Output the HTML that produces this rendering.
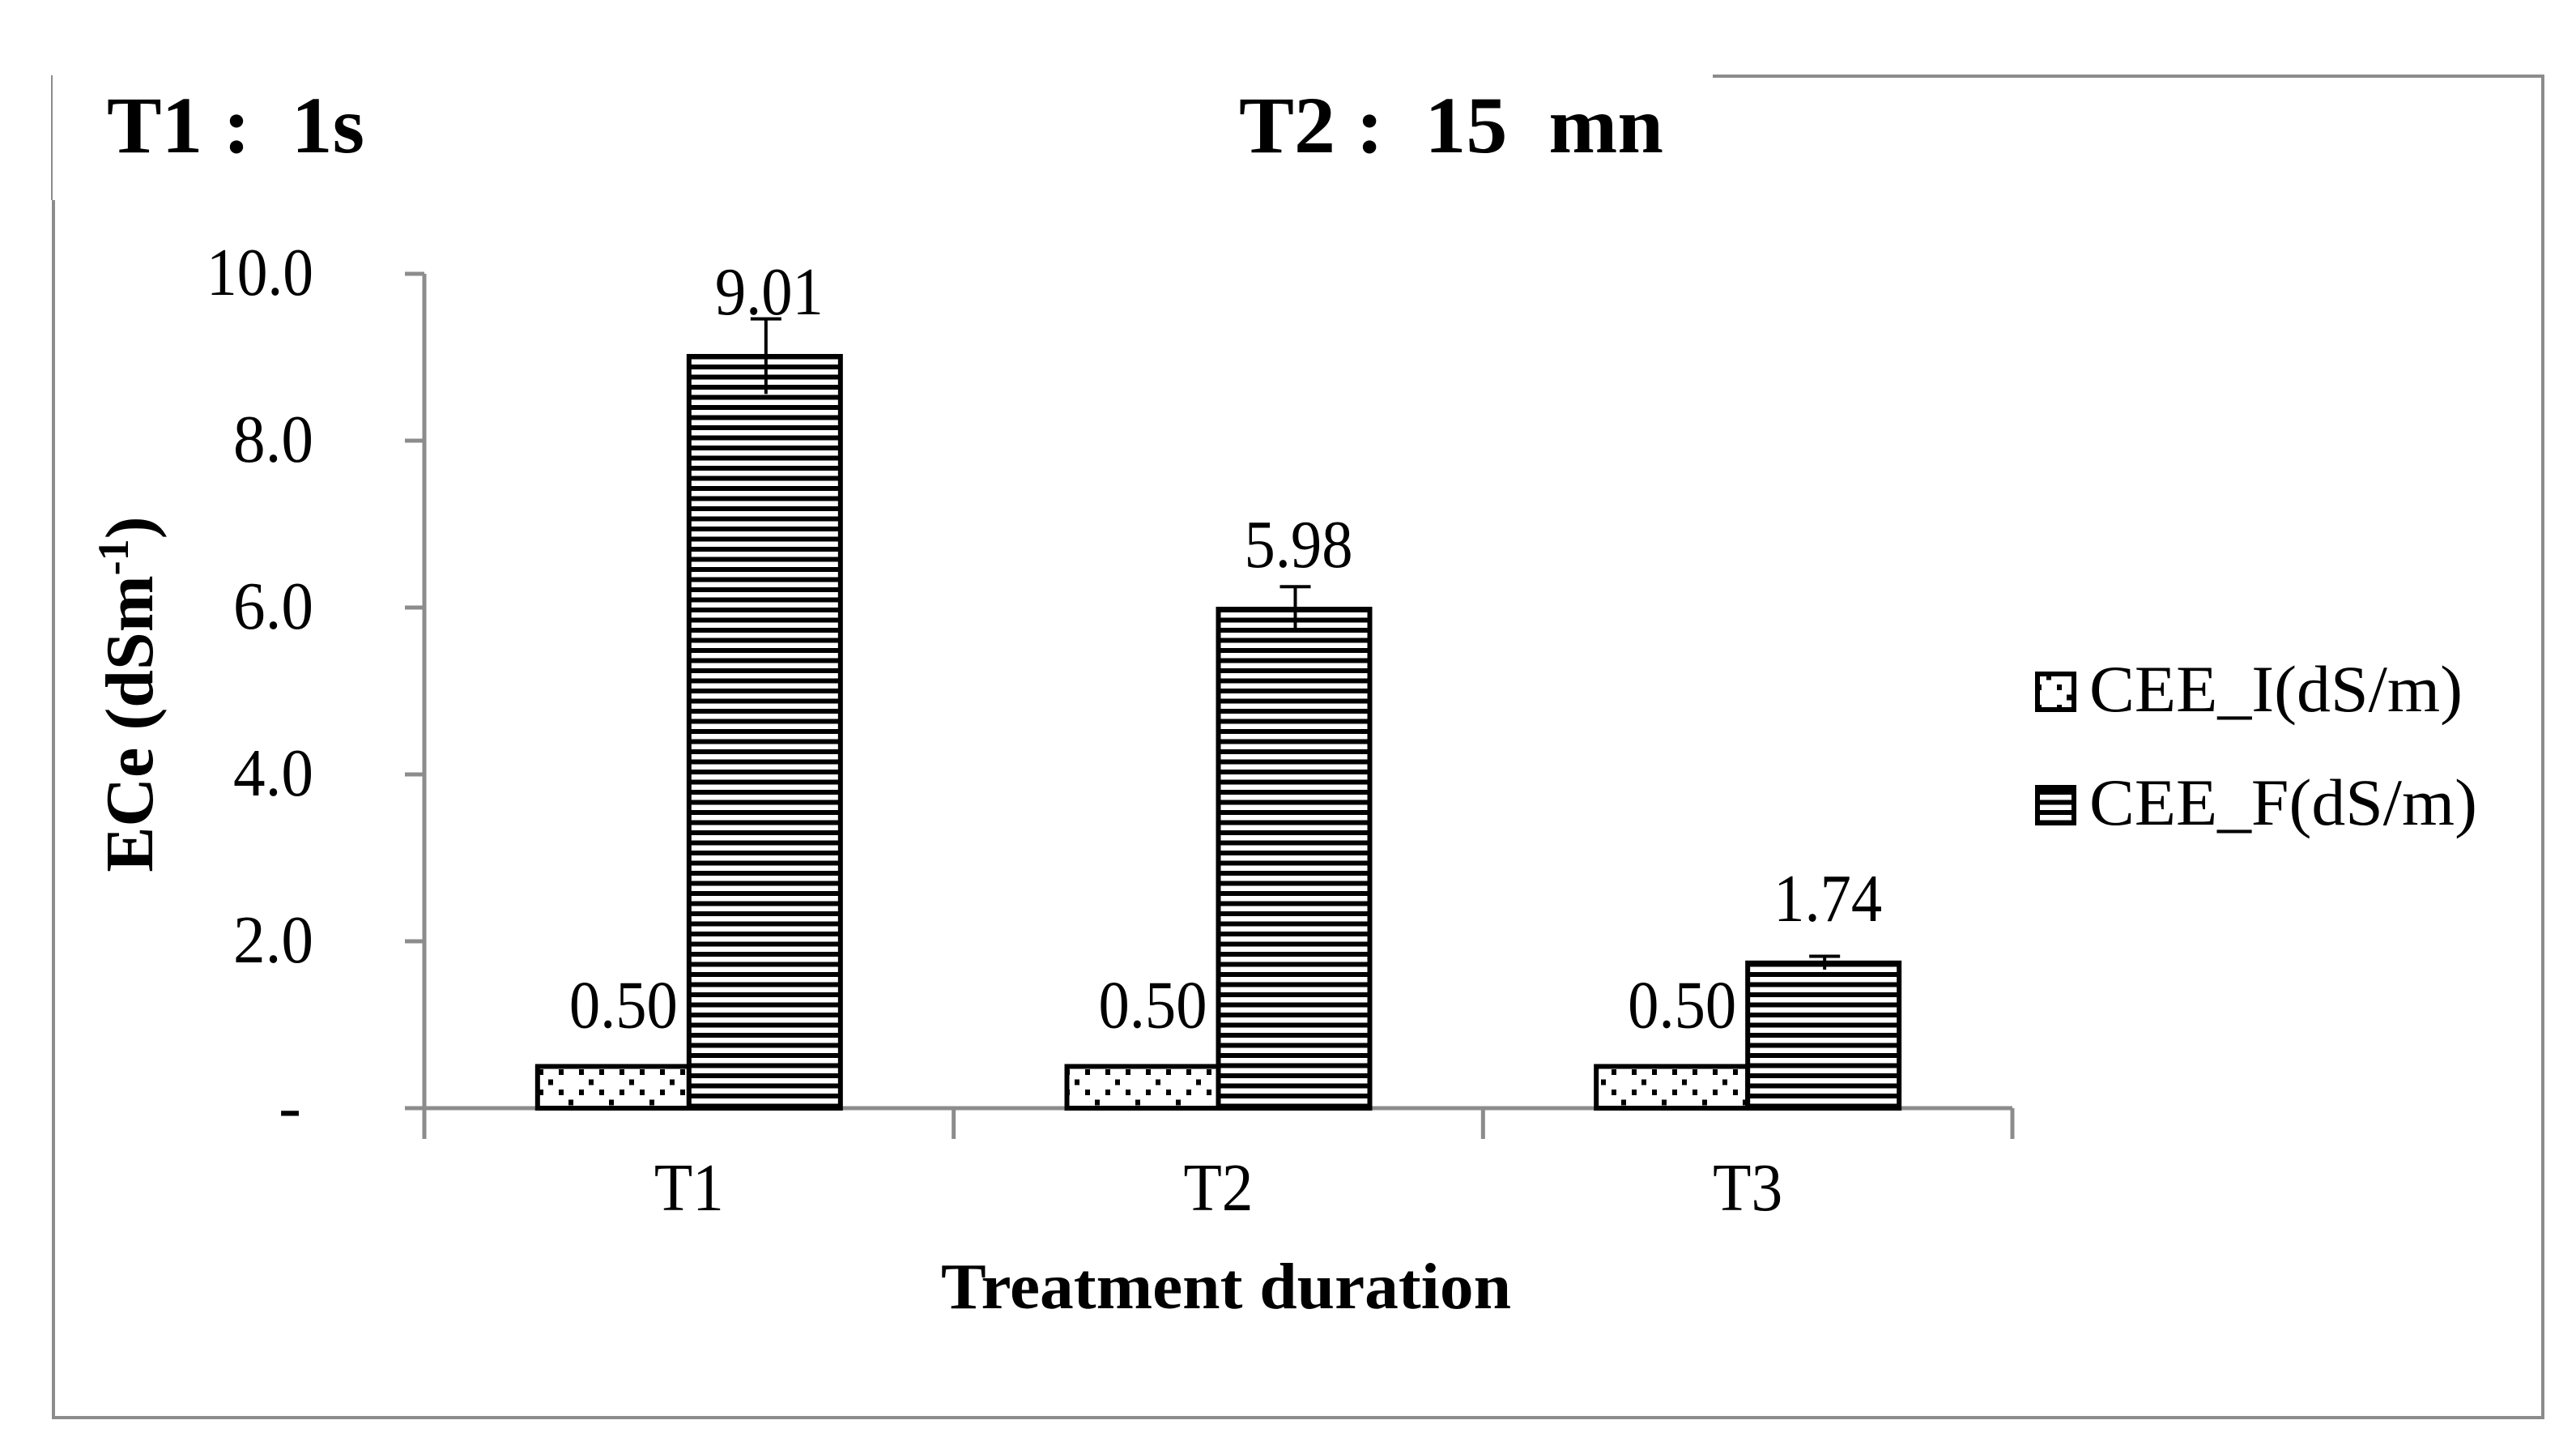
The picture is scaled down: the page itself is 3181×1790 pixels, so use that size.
<!DOCTYPE html>
<html><head><meta charset="utf-8"><style>
html,body{margin:0;padding:0;background:#fff}
svg{display:block}
text{font-family:"Liberation Serif",serif;fill:#000}
</style></head><body>
<svg id="chart" width="3181" height="1790" viewBox="0 0 3181 1790" xmlns="http://www.w3.org/2000/svg">
<defs>
<pattern id="dots" patternUnits="userSpaceOnUse" width="50" height="50" x="663" y="1318">
<rect width="50" height="50" fill="#fff"/>
<rect x="2" y="2" width="6" height="7" fill="#000"/><rect x="27" y="2" width="6" height="7" fill="#000"/>
<rect x="14" y="14.5" width="6" height="7" fill="#000"/>
<rect x="2" y="27" width="6" height="7" fill="#000"/><rect x="27" y="27" width="6" height="7" fill="#000"/>
<rect x="39" y="39.5" width="6" height="7" fill="#000"/>
</pattern>
<pattern id="stripes" patternUnits="userSpaceOnUse" width="20" height="12.5" x="0" y="0">
<rect width="20" height="12.5" fill="#fff"/><rect y="0" width="20" height="6" fill="#000"/>
</pattern>
</defs>
<g stroke="#8c8c8c" fill="none">
<line x1="64" y1="93" x2="64" y2="247" stroke-width="2"/>
<line x1="66" y1="247" x2="66" y2="1752" stroke-width="4"/>
<line x1="64" y1="1750" x2="3142" y2="1750" stroke-width="4"/>
<line x1="3140" y1="94" x2="3140" y2="1752" stroke-width="4"/>
<line x1="2115" y1="94" x2="3142" y2="94" stroke-width="4"/>
</g>
<text x="132" y="188" font-size="100" font-weight="bold" textLength="318" lengthAdjust="spacingAndGlyphs" xml:space="preserve">T1 :  1s</text>
<text x="1530" y="188" font-size="100" font-weight="bold" textLength="524" lengthAdjust="spacingAndGlyphs" xml:space="preserve">T2 :  15  mn</text>
<g id="axes"></g>
<g id="bars"></g>
<text transform="translate(188,857) rotate(-90)" text-anchor="middle" font-size="84" font-weight="bold">ECe (dSm<tspan font-size="54" dy="-30">-1</tspan><tspan dy="30">)</tspan></text>
<text x="1514" y="1615" text-anchor="middle" font-size="80" font-weight="bold" textLength="704" lengthAdjust="spacingAndGlyphs">Treatment duration</text>
<g>
<g>
<rect x="2516" y="832" width="45" height="44" fill="url(#dots)" stroke="#000" stroke-width="6"/>
<text x="2580" y="878" font-size="82" textLength="461" lengthAdjust="spacingAndGlyphs">CEE_I(dS/m)</text>
</g>
<g>
<rect x="2516" y="972" width="45" height="44" fill="url(#stripes)" stroke="#000" stroke-width="6"/>
<text x="2580" y="1018" font-size="82" textLength="479" lengthAdjust="spacingAndGlyphs">CEE_F(dS/m)</text>
</g>
</g>
</svg>
<script>
const categories = ["T1","T2","T3"];
const ceeI = [0.50, 0.50, 0.50];
const ceeF = [9.01, 5.98, 1.74];
const errF = [0.45, 0.27, 0.08];
const yTicks = [0, 2, 4, 6, 8, 10];
const yTickLabels = ["-", "2.0", "4.0", "6.0", "8.0", "10.0"];

const NS = "http://www.w3.org/2000/svg";
const X0 = 524, X1 = 2485, Y0 = 1368, YTOP = 338, YMAX = 10;
const catW = (X1 - X0) / categories.length;
const barW = 190;
function y(v){ return Y0 - (v / YMAX) * (Y0 - YTOP); }
function xc(i){ return X0 + catW * (i + 0.5); }
function mk(tag, attrs, parent){ const e = document.createElementNS(NS, tag); for (const k in attrs) e.setAttribute(k, attrs[k]); parent.appendChild(e); return e; }

const axes = document.getElementById('axes');
const bars = document.getElementById('bars');
const g = "#8c8c8c";
let l = mk('line', {x1:X0, y1:YTOP, x2:X0, y2:Y0+38, stroke:g, 'stroke-width':5}, axes);


l = mk('line', {x1:X0-24, y1:Y0, x2:X1, y2:Y0, stroke:g, 'stroke-width':5}, axes);


yTicks.forEach((t, i) => {
  const tk = mk('line', {x1:X0-24, y1:y(t), x2:X0, y2:y(t), stroke:g, 'stroke-width':5}, axes);
  
  
  const lb = mk('text', {x:387, y:y(t)+26, 'text-anchor':'end', 'font-size':84, textLength: yTickLabels[i].length > 1 ? 33*yTickLabels[i].length : 16, lengthAdjust:'spacingAndGlyphs'}, axes);
  if (t === 0) { lb.setAttribute('x', 372); lb.removeAttribute('textLength'); }
  lb.textContent = yTickLabels[i];
  
  
});
for (let i = 0; i <= categories.length; i++) {
  const xx = X0 + catW * i;
  const tk = mk('line', {x1:xx, y1:Y0, x2:xx, y2:Y0+38, stroke:g, 'stroke-width':5}, axes);
  
  
}
categories.forEach((c, i) => {
  const t = mk('text', {x:xc(i), y:1494, 'text-anchor':'middle', 'font-size':84, textLength:86, lengthAdjust:'spacingAndGlyphs'}, axes);
  t.textContent = c;
  
  

  const bi = mk('rect', {x:xc(i)-barW+3, y:y(ceeI[i]), width:barW-3, height:Y0-y(ceeI[i]), fill:'url(#dots)', stroke:'#000', 'stroke-width':6}, bars);
  
  
  const bf = mk('rect', {x:xc(i), y:y(ceeF[i]), width:barW-3, height:Y0-y(ceeF[i]), fill:'url(#stripes)', stroke:'#000', 'stroke-width':6}, bars);
  
  

  const ex = xc(i) + barW/2;
  const eb = mk('path', {d:`M${ex},${y(ceeF[i]-errF[i])} V${y(ceeF[i]+errF[i])} M${ex-19},${y(ceeF[i]+errF[i])} H${ex+19}`, stroke:'#000', 'stroke-width':4, fill:'none'}, bars);
  
  

  const vi = mk('text', {x:xc(i)-barW/2+14, y:y(ceeI[i])-48, 'text-anchor':'middle', 'font-size':84, textLength:134, lengthAdjust:'spacingAndGlyphs'}, bars);
  vi.textContent = ceeI[i].toFixed(2);
  
  
  const vf = mk('text', {x:ex+4, y:y(ceeF[i])-52, 'text-anchor':'middle', 'font-size':84, textLength:134, lengthAdjust:'spacingAndGlyphs'}, bars);
  vf.textContent = ceeF[i].toFixed(2);
  
  
});
</script>
</body></html>
